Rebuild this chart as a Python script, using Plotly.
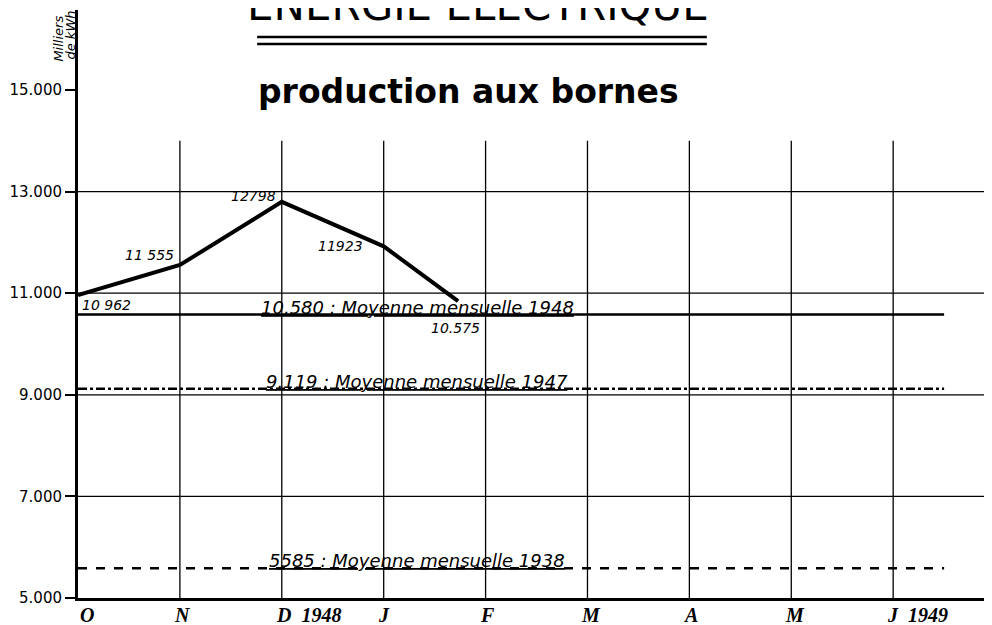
import plotly.graph_objects as go

# ---- data ----
month_labels = ["O", "N", "D  <b>1948</b>", "J", "F", "M", "A", "M", "J  <b>1949</b>"]
month_pos = [0, 1, 2, 3, 4, 5, 6, 7, 8]

prod_x = [0, 1, 2, 3, 3.73]
prod_y = [10962, 11555, 12798, 11923, 10843]
prod_labels = ["10 962", "11 555", "12798", "11923", "10.575"]

mean_values = [10580, 9119, 5585]
mean_labels = ["10.580 : Moyenne mensuelle 1948",
               "9.119 : Moyenne mensuelle 1947",
               "5585 : Moyenne mensuelle 1938"]
mean_dash = ["solid", "dashdot", "dash"]
mean_end = 8.5

y_ticks = [5000, 7000, 9000, 11000, 13000, 15000]
y_tick_text = ["5.000", "7.000", "9.000", "11.000", "13.000", "15.000"]
grid_y = [7000, 9000, 11000, 13000]
vgrid_top = 14000

unit_lines = ["Milliers", "de kWh"]

fig = go.Figure()

# mean lines
for v, lab, d in zip(mean_values, mean_labels, mean_dash):
    fig.add_trace(go.Scatter(x=[0, mean_end], y=[v, v], mode="lines",
                             line=dict(color="black", width=2.6, dash=d),
                             hoverinfo="skip", showlegend=False))
    fig.add_annotation(x=3.33, y=v, text="<u>" + lab + "</u>", showarrow=False,
                       yanchor="bottom", yshift=-5, xanchor="center",
                       font=dict(family="DejaVu Sans", size=18, color="black", style="italic"))

# production line
fig.add_trace(go.Scatter(x=prod_x, y=prod_y, mode="lines",
                         line=dict(color="black", width=4),
                         hoverinfo="skip", showlegend=False))

label_offsets = [(2, 10, "left"), (-4, -10, "right"), (-4, -6, "right"), (-19, 0, "right"), (-3, 27, "center")]
for x, y, t, (dx, dy, xa) in zip(prod_x, prod_y, prod_labels, label_offsets):
    fig.add_annotation(x=x, y=y, text=t, showarrow=False, xanchor=xa,
                       xshift=dx, yshift=-dy,
                       font=dict(family="DejaVu Sans", size=14, color="black", style="italic"))

# grid shapes
for gy in grid_y:
    fig.add_shape(type="line", xref="paper", yref="y", x0=0, x1=1, y0=gy, y1=gy,
                  line=dict(color="black", width=1.3), layer="below")
for mx in month_pos[1:]:
    fig.add_shape(type="line", xref="x", yref="y", x0=mx, x1=mx, y0=5000, y1=vgrid_top,
                  line=dict(color="black", width=1.3), layer="below")

# x labels
for i, (mx, ml) in enumerate(zip(month_pos, month_labels)):
    fig.add_annotation(x=mx, y=0, yref="paper", text=ml, showarrow=False,
                       xanchor="left", yanchor="top", xshift=0 if i == 0 else -8, yshift=-4,
                       font=dict(family="Liberation Serif", size=20, color="black",
                                 style="italic", weight="bold"))

# titles
fig.add_annotation(x=0.4376, xref="paper", y=1.0, yref="paper", yanchor="middle", yshift=5,
                   text="ÉNERGIE ÉLECTRIQUE", showarrow=False,
                   font=dict(family="DejaVu Sans", size=42, color="black"))
fig.add_shape(type="line", xref="paper", yref="paper", x0=0.196, x1=0.688, y0=0.954, y1=0.954,
              line=dict(color="black", width=2.5))
fig.add_shape(type="line", xref="paper", yref="paper", x0=0.196, x1=0.688, y0=0.942, y1=0.942,
              line=dict(color="black", width=2.5))
fig.add_annotation(x=0.4267, xref="paper", y=0.861, yref="paper", yanchor="middle",
                   text="production aux bornes", showarrow=False,
                   font=dict(family="DejaVu Sans", size=33, color="black", weight="bold"))
for ux, uy, ut in zip([-0.021, -0.0085], [0.951, 0.957], unit_lines):
    fig.add_annotation(x=ux, y=uy, xref="paper", yref="paper", textangle=-90,
                       text=ut, showarrow=False, xanchor="center", yanchor="middle",
                       font=dict(family="DejaVu Sans", size=13, color="black", style="italic"))

# page body has an 8px margin: shrink the figure and offset margins accordingly
fig.update_layout(
    width=984, height=617,
    margin=dict(l=70, r=0, t=2, b=27),
    paper_bgcolor="white", plot_bgcolor="white",
    xaxis=dict(range=[0, 8.97], showgrid=False, zeroline=False, showticklabels=False,
               showline=True, linecolor="black", linewidth=3, ticks=""),
    yaxis=dict(range=[5000, 16575], showgrid=False, zeroline=False,
               tickvals=y_ticks, ticktext=y_tick_text, ticks="outside", ticklen=10,
               tickcolor="black", tickwidth=1.5,
               showline=True, linecolor="black", linewidth=3,
               tickfont=dict(family="DejaVu Sans", size=15, color="black")),
)

fig.write_html("out.html")
